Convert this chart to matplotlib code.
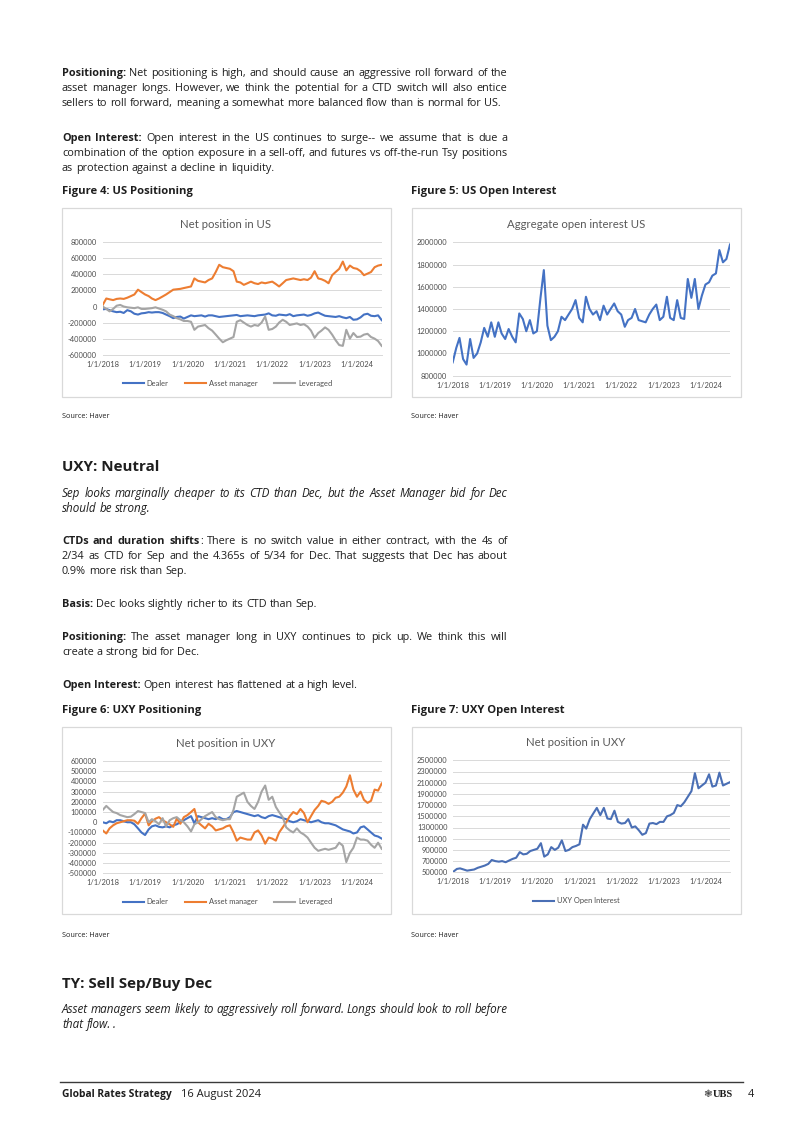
import matplotlib
matplotlib.use("Agg")
import matplotlib.pyplot as plt
from matplotlib.patches import Rectangle
import pandas as pd

W, H = 802, 1134
BODY = ["Open Sans", "DejaVu Sans"]
CHART = ["Lato", "DejaVu Sans"]
INK = "#1e1e1e"
AXC = "#595959"
GRID = "#d9d9d9"
BLUE, ORANGE, GREY = "#4472c4", "#ed7d31", "#a5a5a5"

plt.rcParams["font.family"] = BODY

# ---- data: CFTC positioning / open interest, monthly Jan 2018 .. Aug 2024, in thousands ----
months = pd.date_range("2018-01-01", "2024-08-01", freq="MS")
year_ticks = pd.to_datetime(["2018-01-01", "2019-01-01", "2020-01-01", "2021-01-01",
                             "2022-01-01", "2023-01-01", "2024-01-01"])
year_labels = ["1/1/2018", "1/1/2019", "1/1/2020", "1/1/2021", "1/1/2022", "1/1/2023", "1/1/2024"]

us_dealer = [-35, -30, -45, -60, -70, -65, -80, -45, -60, -90, -100, -85,
             -80, -70, -75, -70, -70, -80, -100, -120, -145, -130, -125, -150,
             -130, -110, -120, -115, -110, -125, -110, -110, -120, -130, -125, -120,
             -115, -110, -105, -120, -115, -110, -115, -120, -110, -105, -100, -85,
             -110, -115, -100, -105, -110, -95, -120, -110, -105, -100, -115, -105,
             -85, -75, -95, -115, -120, -125, -130, -120, -135, -145, -130, -165,
             -160, -135, -100, -90, -115, -120, -110, -170]
us_asset_mgr = [20, 100, 90, 80, 95, 100, 95, 110, 130, 150, 210, 180,
                150, 130, 100, 80, 100, 125, 150, 180, 210, 215, 220, 230,
                240, 250, 350, 320, 310, 300, 330, 350, 430, 520, 490, 480,
                470, 440, 310, 300, 270, 290, 310, 290, 280, 300, 290, 300,
                310, 280, 250, 290, 330, 340, 350, 340, 330, 340, 330, 360,
                440, 350, 340, 320, 290, 390, 430, 470, 560, 450, 510, 480,
                470, 440, 390, 410, 430, 490, 510, 520]
us_leveraged = [0, -30, -60, -30, 10, 20, 0, -10, -15, -20, -10, -30,
                -30, -25, -20, -10, -25, -40, -60, -100, -120, -145, -160, -180,
                -180, -190, -290, -250, -240, -230, -270, -300, -350, -400, -445, -420,
                -400, -380, -190, -170, -200, -230, -250, -230, -240, -200, -125, -290,
                -280, -250, -200, -165, -190, -230, -220, -210, -230, -220, -250, -300,
                -390, -330, -300, -260, -290, -350, -420, -480, -490, -290, -400, -330,
                -380, -375, -350, -340, -380, -400, -430, -490]
us_oi = [920, 1050, 1140, 950, 900, 1130, 960, 1000, 1100, 1230, 1150, 1280,
         1150, 1280, 1180, 1130, 1220, 1150, 1100, 1360, 1310, 1200, 1300, 1180,
         1200, 1500, 1750, 1250, 1120, 1150, 1200, 1330, 1300, 1350, 1400, 1480,
         1320, 1280, 1510, 1400, 1350, 1380, 1300, 1430, 1350, 1400, 1450, 1380,
         1350, 1240, 1300, 1320, 1400, 1300, 1290, 1280, 1350, 1400, 1440, 1300,
         1330, 1510, 1320, 1300, 1480, 1320, 1310, 1670, 1500, 1670, 1400, 1520,
         1620, 1640, 1700, 1720, 1930, 1820, 1850, 1980]

uxy_dealer = [0, -10, 10, 0, 20, 20, 10, 0, 0, -20, -60, -100,
              -125, -70, -40, -30, -45, -50, -40, -50, -30, -20, 0, 20,
              40, 60, -10, 60, 50, 40, 30, 40, 30, 50, 30, 30,
              50, 100, 110, 100, 90, 80, 70, 60, 70, 50, 40, 60,
              70, 60, 50, 40, 30, 10, 0, 10, 30, 20, 10, 0,
              10, 20, 0, -10, -10, -20, -30, -50, -70, -80, -90, -110,
              -100, -50, -40, -70, -100, -130, -140, -160]
uxy_asset_mgr = [-80, -110, -60, -30, -10, 0, 10, 20, 20, 15, -15, 40,
                 85, -30, 10, 35, 50, 20, 0, -20, -45, 35, -15, 50,
                 70, 100, 130, 0, -30, -60, -15, -40, -80, -70, -60, -40,
                 -30, -100, -180, -150, -160, -170, -170, -100, -80, -130, -210, -150,
                 -160, -180, -100, -50, 0, 60, 100, 80, 130, 90, 0, 60,
                 120, 160, 210, 200, 180, 200, 240, 250, 290, 350, 460, 320,
                 250, 300, 220, 190, 210, 320, 310, 380]
uxy_leveraged = [120, 160, 130, 100, 90, 70, 60, 50, 55, 80, 110, 100,
                 90, 0, 30, 10, -20, 40, -40, 20, 40, 50, 20, 0,
                 -40, -90, -20, 0, 30, 60, 80, 100, 50, 30, 20, 30,
                 30, 120, 250, 270, 290, 200, 160, 130, 200, 300, 360, 220,
                 250, 150, 100, 50, -50, -80, -100, -60, -100, -120, -150, -200,
                 -250, -280, -270, -260, -270, -260, -250, -200, -230, -390, -300, -250,
                 -150, -170, -170, -180, -220, -250, -200, -260]
uxy_oi = [510, 560, 570, 550, 530, 540, 550, 580, 600, 620, 650, 720,
          700, 690, 700, 680, 710, 740, 760, 860, 820, 830, 880, 900,
          920, 1020, 780, 820, 950, 900, 940, 1070, 880, 900, 950, 970,
          1000, 1350, 1280, 1450, 1550, 1650, 1520, 1650, 1460, 1450, 1600, 1400,
          1370, 1380, 1450, 1300, 1320, 1250, 1170, 1200, 1370, 1380, 1360, 1400,
          1400, 1500, 1520, 1560, 1700, 1680, 1750, 1850, 1950, 2270, 2000, 2050,
          2100, 2250, 2030, 2050, 2280, 2050, 2080, 2110]

us_pos_ticks = [-600000, -400000, -200000, 0, 200000, 400000, 600000, 800000]
us_oi_ticks = [800000, 1000000, 1200000, 1400000, 1600000, 1800000, 2000000]
uxy_pos_ticks = [-500000, -400000, -300000, -200000, -100000, 0,
                 100000, 200000, 300000, 400000, 500000, 600000]
uxy_oi_ticks = [500000, 700000, 900000, 1100000, 1300000, 1500000,
                1700000, 1900000, 2100000, 2300000, 2500000]


def k(vals):
    return [v * 1000 for v in vals]


fig = plt.figure(figsize=(W / 100, H / 100), dpi=100)
fig.patch.set_facecolor("white")
renderer = fig.canvas.get_renderer()


def fx(x):
    return x / W


def fy(y):
    return 1 - y / H


# ---------- text helpers ----------
STYLES = {"n": dict(fontweight="normal", fontstyle="normal"),
          "b": dict(fontweight="bold", fontstyle="normal"),
          "i": dict(fontweight="normal", fontstyle="italic")}
BODY_SIZE = 7.85


def put_line(segs, y, size=BODY_SIZE, justify=True, x0=62, x1=507.5):
    # words made of pieces; a piece glues to the previous one when no space between them
    words = []
    for txt, st in segs:
        parts = txt.split(" ")
        for j, p in enumerate(parts):
            if p == "":
                continue
            glued = (j == 0 and not txt.startswith(" ") and words)
            if glued:
                words[-1].append((p, st))
            else:
                words.append([(p, st)])
    placed = []
    for w in words:
        arts = []
        for p, st in w:
            sz = size * 1.07 if st == "i" else size
            t = fig.text(0, fy(y), p, fontsize=sz, color=INK, va="baseline",
                         ha="left", **STYLES[st])
            arts.append((t, t.get_window_extent(renderer).width))
        placed.append(arts)
    total = sum(wd for arts in placed for _, wd in arts)
    space = size * 100 / 72 * 0.26
    if justify and len(placed) > 1:
        space = (x1 - x0 - total) / (len(placed) - 1)
    x = x0
    for arts in placed:
        for t, wd in arts:
            t.set_x(fx(x))
            x += wd
        x += space


def paragraph(lines, y0, step=15.0, size=BODY_SIZE):
    for i, segs in enumerate(lines):
        put_line(segs, y0 + i * step, size=size, justify=(i < len(lines) - 1))


# ---------- body text ----------
paragraph([[("Positioning:", "b"), (" Net positioning is high, and should cause an aggressive roll forward of the", "n")],
           [("asset manager longs. However, we think the potential for a CTD switch will also entice", "n")],
           [("sellers to roll forward, meaning a somewhat more balanced flow than is normal for US.", "n")]],
          75.7)
paragraph([[("Open Interest:", "b"), (" Open interest in the US continues to surge-- we assume that is due a", "n")],
           [("combination of the option exposure in a sell-off, and futures vs off-the-run Tsy positions", "n")],
           [("as protection against a decline in liquidity.", "n")]],
          141)

fig.text(fx(62), fy(471), "UXY: Neutral", fontsize=10.9, fontweight="bold", color=INK, va="baseline")
paragraph([[("Sep looks marginally cheaper to its CTD than Dec, but the Asset Manager bid for Dec", "i")],
           [("should be strong.", "i")]], 496.7)
paragraph([[("CTDs and duration shifts", "b"), (": There is no switch value in either contract, with the 4s of", "n")],
           [("2/34 as CTD for Sep and the 4.365s of 5/34 for Dec. That suggests that Dec has about", "n")],
           [("0.9% more risk than Sep.", "n")]], 544.3)
paragraph([[("Basis:", "b"), (" Dec looks slightly richer to its CTD than Sep.", "n")]], 606.7)
paragraph([[("Positioning:", "b"), (" The asset manager long in UXY continues to pick up. We think this will", "n")],
           [("create a strong bid for Dec.", "n")]], 640)
paragraph([[("Open Interest:", "b"), (" Open interest has flattened at a high level.", "n")]], 688.3)

fig.text(fx(62), fy(987.7), "TY: Sell Sep/Buy Dec", fontsize=10.9, fontweight="bold", color=INK, va="baseline")
paragraph([[("Asset managers seem likely to aggressively roll forward. Longs should look to roll before", "i")],
           [("that flow. .", "i")]], 1013.3)

# figure captions and sources
for x, y, s in [(62, 194, "Figure 4: US Positioning"), (411, 194, "Figure 5: US Open Interest"),
                (62, 713, "Figure 6: UXY Positioning"), (411, 713, "Figure 7: UXY Open Interest")]:
    fig.text(fx(x), fy(y), s, fontsize=8.1, fontweight="bold", color=INK, va="baseline")
for x, y in [(62, 418), (411, 418), (62, 937), (411, 937)]:
    fig.text(fx(x), fy(y), "Source: Haver", fontsize=5.2, color=INK, va="baseline")

# footer
fig.add_artist(plt.Line2D([fx(60), fx(743)], [fy(1082), fy(1082)], color="#3a3a3a", lw=1.0))
fig.text(fx(62), fy(1097), "Global Rates Strategy", fontsize=7.4, fontweight="bold", color=INK, va="baseline")
fig.text(fx(181), fy(1097), "16 August 2024", fontsize=8.0, color=INK, va="baseline")
fig.text(fx(712), fy(1097), "\u2743", fontsize=7.5, color="#444444", va="baseline", ha="right",
         family=["DejaVu Sans"])
fig.text(fx(713), fy(1097), "UBS", fontsize=7.6, fontweight="bold", color=INK, va="baseline",
         family=["Liberation Serif"])
fig.text(fx(748), fy(1097), "4", fontsize=7.8, color=INK, va="baseline")


# ---------- charts ----------
def chart_box(x0, y0, x1, y1):
    fig.add_artist(Rectangle((fx(x0), fy(y1)), (x1 - x0) / W, (y1 - y0) / H,
                             transform=fig.transFigure, facecolor="none",
                             edgecolor=GRID, lw=0.9))


def chart_axes(x0, y0, x1, y1, yticks, title, title_xy):
    ax = fig.add_axes([fx(x0), fy(y1), (x1 - x0) / W, (y1 - y0) / H])
    ax.set_xlim(months[0], months[-1])
    ax.set_ylim(yticks[0], yticks[-1])
    ax.set_yticks(yticks, [str(v) for v in yticks])
    ax.set_xticks(year_ticks, year_labels)
    ax.grid(axis="y", color=GRID, lw=0.7)
    ax.set_axisbelow(True)
    for s in ["left", "right", "top"]:
        ax.spines[s].set_visible(False)
    ax.spines["bottom"].set_color(GRID)
    ax.spines["bottom"].set_linewidth(0.7)
    ax.tick_params(length=0, labelsize=5.4, labelcolor="#4d4d4d", pad=4.2)
    for lab in ax.get_xticklabels() + ax.get_yticklabels():
        lab.set_family(CHART)
    fig.text(fx(title_xy[0]), fy(title_xy[1]), title, ha="center", va="center",
             fontsize=8.2, color=AXC, family=CHART)
    return ax


def chart_legend(ax, cx, cy):
    ax.legend(loc="center", bbox_to_anchor=(fx(cx), fy(cy)), bbox_transform=fig.transFigure,
              ncol=3, frameon=False, prop={"family": CHART, "size": 5.4}, labelcolor="#4d4d4d",
              handlelength=2.8, handletextpad=0.4, columnspacing=2.2)


# Figure 4
chart_box(61.5, 207.5, 390.5, 397)
ax = chart_axes(102.7, 242.3, 381.7, 354.7, us_pos_ticks, "Net position in US", (225.7, 224))
ax.plot(months, k(us_dealer), color=BLUE, lw=1.5, label="Dealer")
ax.plot(months, k(us_asset_mgr), color=ORANGE, lw=1.5, label="Asset manager")
ax.plot(months, k(us_leveraged), color=GREY, lw=1.5, label="Leveraged")
chart_legend(ax, 227.5, 383.3)

# Figure 5
chart_box(411.5, 207.5, 740.5, 397)
ax = chart_axes(452.7, 242.3, 730, 375.7, us_oi_ticks, "Aggregate open interest US", (575.7, 224))
ax.plot(months, k(us_oi), color=BLUE, lw=1.5)

# Figure 6
chart_box(61.5, 726.5, 390.5, 913.5)
ax = chart_axes(102.7, 761, 381.7, 873.3, uxy_pos_ticks, "Net position in UXY", (225.7, 743.3))
ax.plot(months, k(uxy_dealer), color=BLUE, lw=1.5, label="Dealer")
ax.plot(months, k(uxy_asset_mgr), color=ORANGE, lw=1.5, label="Asset manager")
ax.plot(months, k(uxy_leveraged), color=GREY, lw=1.5, label="Leveraged")
chart_legend(ax, 227.5, 901.7)

# Figure 7
chart_box(411.5, 726.5, 740.5, 913.5)
ax = chart_axes(453.3, 760.3, 730, 872.3, uxy_oi_ticks, "Net position in UXY", (575.7, 742.3))
ax.plot(months, k(uxy_oi), color="#4a6fb5", lw=1.5, label="UXY Open Interest")
chart_legend(ax, 576.7, 900.7)

fig.savefig("out.png", dpi=100, facecolor="white")
